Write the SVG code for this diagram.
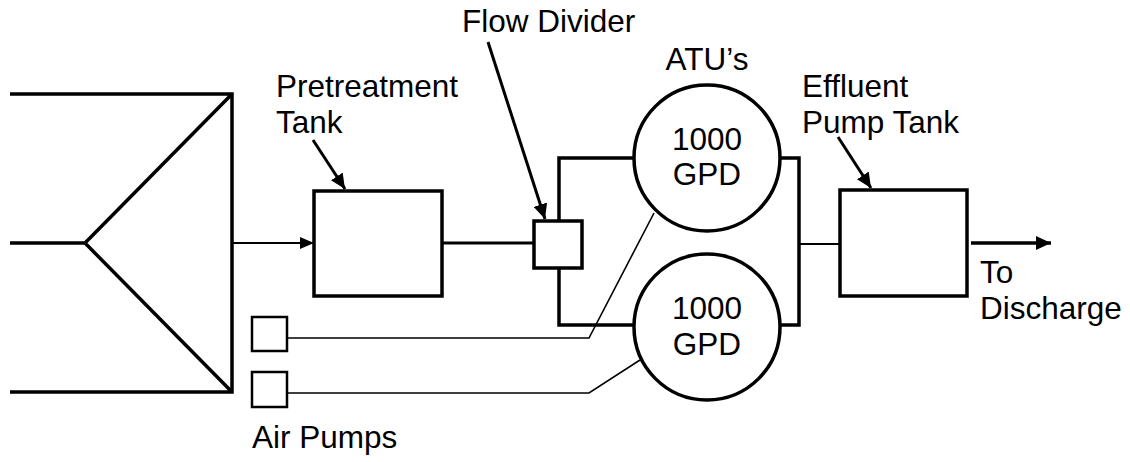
<svg xmlns="http://www.w3.org/2000/svg" width="1130" height="462" viewBox="0 0 1130 462">
<style>
.t{font-family:"Liberation Sans",Arial,sans-serif;font-size:31.5px;fill:#000}
.c{text-anchor:middle}
.thick{fill:none;stroke:#000;stroke-width:3.5}
.med{fill:none;stroke:#000;stroke-width:3}
.thin{fill:none;stroke:#000;stroke-width:2.2}
.hair{fill:none;stroke:#000;stroke-width:1.6}
.box{fill:#fff;stroke:#000;stroke-width:3.5}
.pbox{fill:#fff;stroke:#000;stroke-width:2.5}
</style>
<defs>
<marker id="ah" markerWidth="15" markerHeight="14" refX="15" refY="7" orient="auto" markerUnits="userSpaceOnUse">
<path d="M0,0 L15,7 L0,14 Z" fill="#000"/>
</marker>
<marker id="ah2" markerWidth="14" markerHeight="12" refX="14" refY="6" orient="auto" markerUnits="userSpaceOnUse">
<path d="M0,0 L14,6 L0,12 Z" fill="#000"/>
</marker>
</defs>
<g id="connectors">
<path class="thick" d="M10,94 H232 V392 H10 M232,94 L85,243 L232,392 M10,243 H85"/>
<line class="thin" x1="232" y1="243" x2="314" y2="243" marker-end="url(#ah2)"/>
<line class="med" x1="442" y1="243" x2="534" y2="243"/>
<path class="thick" d="M559,221 V158 H634 M559,268 V325 H634"/>
<path class="thick" d="M780,158 H799 V325 H780"/>
<line class="thin" x1="799" y1="244" x2="840" y2="244"/>
<line class="thick" x1="971" y1="243" x2="1051" y2="243" marker-end="url(#ah)"/>
<polyline class="hair" points="287,338 589,338 654,213"/>
<polyline class="hair" points="287,393 589,393 640,360"/>
<line class="med" x1="313" y1="140" x2="345" y2="189" marker-end="url(#ah)"/>
<line class="med" x1="488" y1="42" x2="545" y2="219" marker-end="url(#ah)"/>
<line class="med" x1="838" y1="137" x2="871" y2="188" marker-end="url(#ah)"/>
</g>
<g id="distribution"></g>
<g id="pretreatment-tank">
<rect class="box" x="314" y="191" width="128" height="105"/>
<text class="t" x="276" y="97">Pretreatment</text>
<text class="t" x="276" y="133">Tank</text>
</g>
<g id="flow-divider">
<rect class="box" x="534" y="221" width="48" height="47"/>
<text class="t" x="462" y="32">Flow Divider</text>
</g>
<g id="atu-top">
<circle class="box" cx="707" cy="158" r="73"/>
<text class="t c" x="707" y="150">1000</text>
<text class="t c" x="707" y="185">GPD</text>
<text class="t c" x="707" y="70">ATU’s</text>
</g>
<g id="atu-bottom">
<circle class="box" cx="707" cy="327" r="73"/>
<text class="t c" x="707" y="319">1000</text>
<text class="t c" x="707" y="355">GPD</text>
</g>
<g id="effluent-pump-tank">
<rect class="box" x="840" y="190" width="127" height="106"/>
<text class="t" x="802" y="97">Effluent</text>
<text class="t" x="802" y="133">Pump Tank</text>
</g>
<g id="discharge">
<text class="t" x="980" y="283">To</text>
<text class="t" x="980" y="319">Discharge</text>
</g>
<g id="air-pumps">
<rect class="pbox" x="252" y="317" width="35" height="34"/>
<rect class="pbox" x="252" y="372" width="35" height="35"/>
<text class="t" x="252" y="448">Air Pumps</text>
</g>
</svg>
